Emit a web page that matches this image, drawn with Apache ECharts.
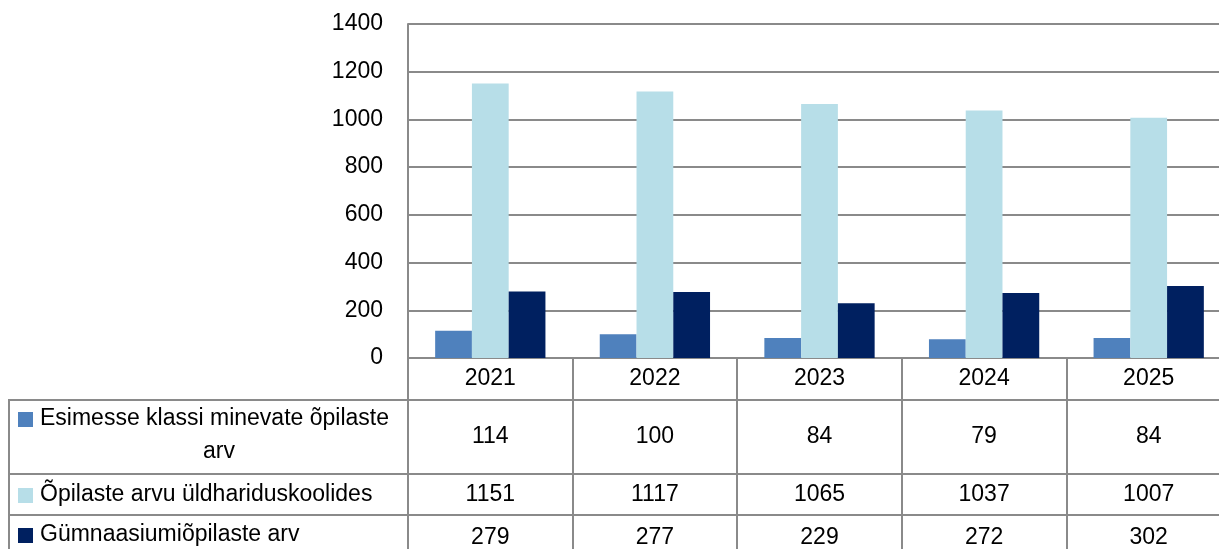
<!DOCTYPE html>
<html>
<head>
<meta charset="utf-8">
<script src="https://cdn.jsdelivr.net/npm/echarts@6/dist/echarts.min.js"></script>
<style>
  html, body { margin: 0; padding: 0; background: #fff; }
  #chart { width: 1219px; height: 549px; }
</style>
</head>
<body>
<div id="chart"></div>
<script>
const years = ['2021', '2022', '2023', '2024', '2025'];
const firstGrade = [114, 100, 84, 79, 84];
const allStudents = [1151, 1117, 1065, 1037, 1007];
const gymnasium = [279, 277, 229, 272, 302];
const seriesNames = [
  'Esimesse klassi minevate õpilaste arv',
  'Õpilaste arvu üldhariduskoolides',
  'Gümnaasiumiõpilaste arv',
];
const colors = ['#4f81bd', '#b7dee8', '#002060'];

const lineColor = '#8a8a8a';
const font = 'Liberation Sans, Arial, sans-serif';
const fontSize = 23;

// table layout (px below the plot bottom)
const gridBottomY = 358;
const rowHeights = [42, 74, 41, 45];
const rowTops = [0, 42, 116, 157];
const rows = [firstGrade, allStudents, gymnasium];

const chart = echarts.init(document.getElementById('chart'));

const xAxes = [
  {
    type: 'category',
    data: years,
    position: 'bottom',
    axisLine: { show: true, lineStyle: { color: lineColor, width: 2 } },
    axisTick: { show: true, length: rowHeights[0], interval: 0, lineStyle: { color: lineColor, width: 2 } },
    axisLabel: { interval: 0, color: '#000', fontFamily: font, fontSize: fontSize, lineHeight: fontSize, margin: (rowHeights[0] - fontSize) / 2 },
  },
];
rows.forEach((row, i) => {
  const h = rowHeights[i + 1];
  xAxes.push({
    type: 'category',
    data: years,
    gridIndex: 0,
    position: 'bottom',
    offset: rowTops[i + 1],
    axisLine: { show: true, lineStyle: { color: lineColor, width: 2 } },
    axisTick: { show: true, length: h, interval: 0, lineStyle: { color: lineColor, width: 2 } },
    axisLabel: {
      interval: 0,
      color: '#000',
      fontFamily: font,
      fontSize: fontSize,
      lineHeight: fontSize,
      margin: (h - fontSize) / 2,
      formatter: (v, idx) => String(row[idx]),
    },
  });
});

// row headers on the left of the table
const headerCenters = [419, 495, 535];
const graphics = [
  {
    type: 'rect',
    shape: { x: 9, y: gridBottomY + rowTops[1], width: 399, height: 200 },
    style: { fill: 'none', stroke: lineColor, lineWidth: 2 },
  },
  {
    type: 'line',
    shape: { x1: 9, y1: gridBottomY + rowTops[2], x2: 408, y2: gridBottomY + rowTops[2] },
    style: { stroke: lineColor, lineWidth: 2 },
  },
  {
    type: 'line',
    shape: { x1: 9, y1: gridBottomY + rowTops[3], x2: 408, y2: gridBottomY + rowTops[3] },
    style: { stroke: lineColor, lineWidth: 2 },
  },
];
seriesNames.forEach((name, i) => {
  const cy = headerCenters[i];
  graphics.push({
    type: 'rect',
    shape: { x: 18, y: cy - 7, width: 15, height: 15 },
    style: { fill: colors[i] },
  });
  let first = name;
  let rest = '';
  if (i === 0) {
    const cut = name.lastIndexOf(' ');
    first = name.slice(0, cut);
    rest = name.slice(cut + 1);
  }
  graphics.push({
    type: 'text',
    x: 40,
    y: cy,
    style: { text: first, fill: '#000', font: fontSize + 'px ' + font, textVerticalAlign: 'middle' },
  });
  if (rest) {
    graphics.push({
      type: 'text',
      x: 219,
      y: cy + 33,
      style: { text: rest, fill: '#000', font: fontSize + 'px ' + font, textAlign: 'center', textVerticalAlign: 'middle' },
    });
  }
});

chart.setOption({
  animation: false,
  color: colors,
  grid: {
    left: 408,
    top: 24,
    right: -12,
    bottom: 549 - gridBottomY,
    containLabel: false,
    outerBoundsMode: 'none',
  },
  xAxis: xAxes,
  yAxis: {
    type: 'value',
    min: 0,
    max: 1400,
    interval: 200,
    axisLine: { show: true, lineStyle: { color: lineColor, width: 2 } },
    axisTick: { show: false },
    splitLine: { show: true, lineStyle: { color: lineColor, width: 2 } },
    axisLabel: { color: '#000', fontFamily: font, fontSize: fontSize, margin: 25, formatter: (v) => String(v) },
  },
  series: [
    { name: seriesNames[0], type: 'bar', data: firstGrade, barGap: '0%', barCategoryGap: '33%' },
    { name: seriesNames[1], type: 'bar', data: allStudents, barGap: '0%', barCategoryGap: '33%' },
    { name: seriesNames[2], type: 'bar', data: gymnasium, barGap: '0%', barCategoryGap: '33%' },
  ],
  graphic: graphics,
});
</script>
</body>
</html>
